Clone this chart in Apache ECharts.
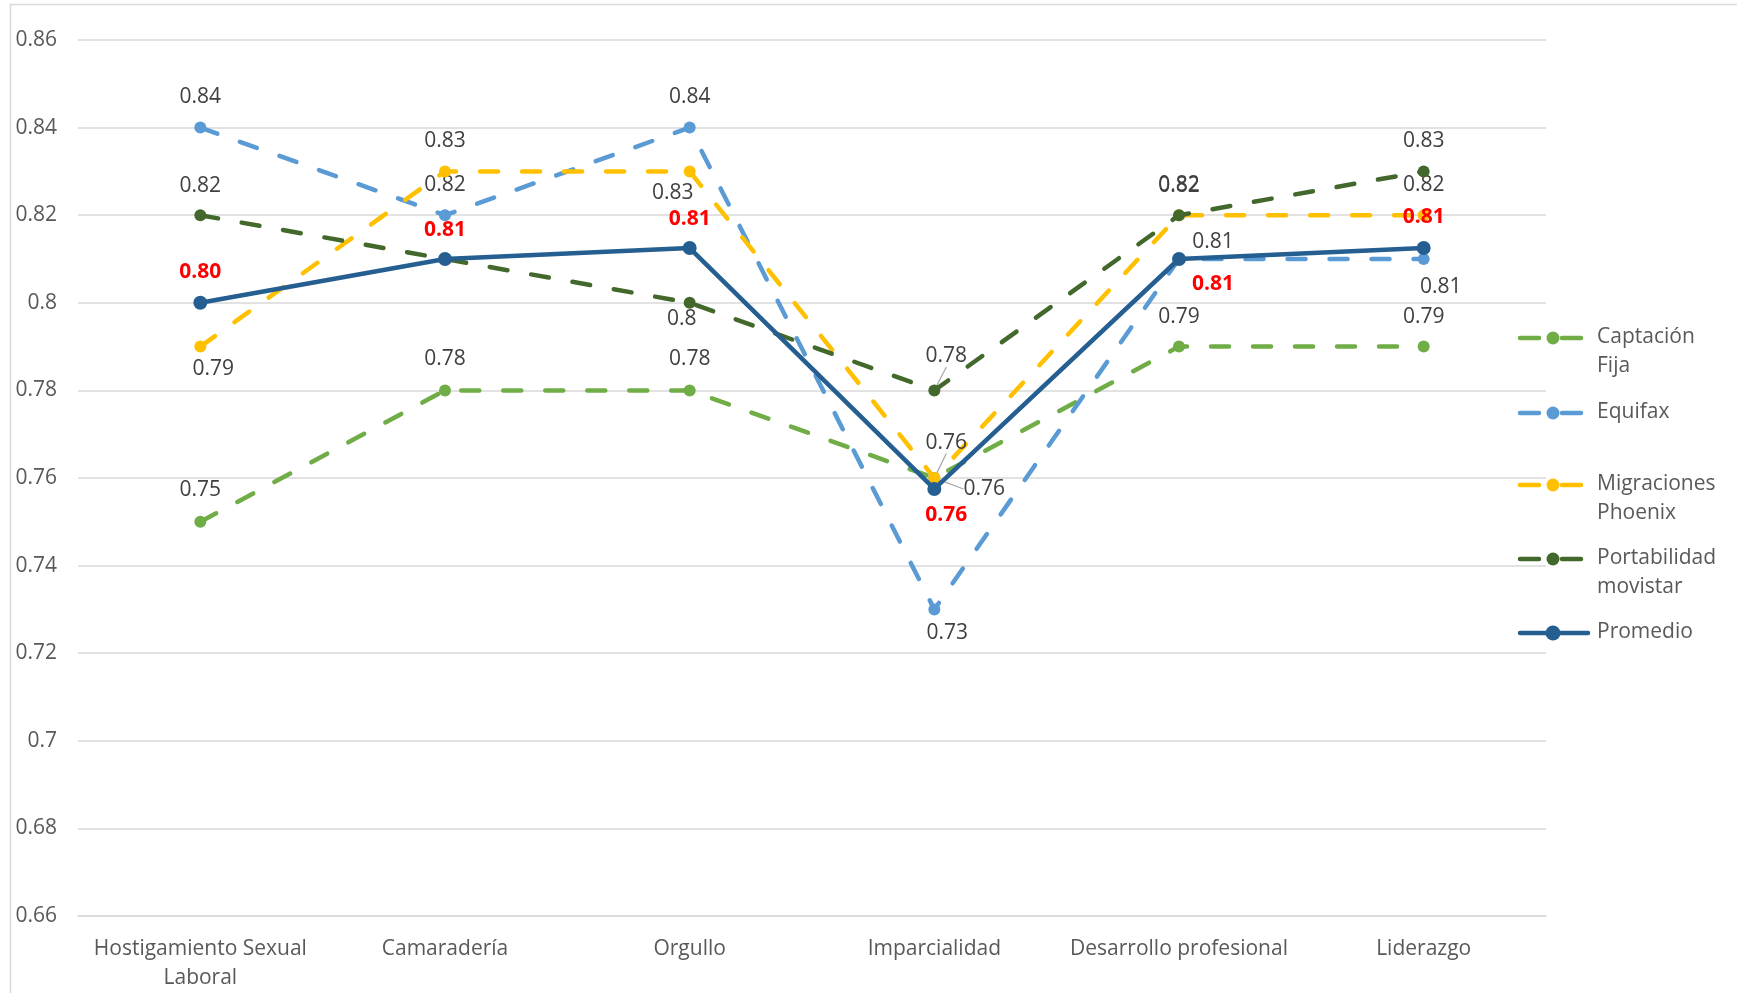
<!DOCTYPE html>
<html>
<head>
<meta charset="utf-8">
<script src="https://cdn.jsdelivr.net/npm/echarts@6/dist/echarts.min.js"></script>
<style>
  html, body { margin: 0; padding: 0; background: #ffffff; }
  #chart { width: 1737px; height: 993px; }
</style>
</head>
<body>
<div id="chart"></div>
<script>
// Categories and series values
const categories = ['Hostigamiento Sexual\nLaboral', 'Camaradería', 'Orgullo', 'Imparcialidad', 'Desarrollo profesional', 'Liderazgo'];
const captacionFija = [0.75, 0.78, 0.78, 0.76, 0.79, 0.79];
const equifax = [0.84, 0.82, 0.84, 0.73, 0.81, 0.81];
const migracionesPhoenix = [0.79, 0.83, 0.83, 0.76, 0.82, 0.82];
const portabilidadMovistar = [0.82, 0.81, 0.80, 0.78, 0.82, 0.83];
const promedio = [0.80, 0.81, 0.8125, 0.7575, 0.81, 0.8125];

// Value axis range
const yMin = 0.66, yMax = 0.86, yStep = 0.02;

const seriesNames = ['Captación Fija', 'Equifax', 'Migraciones Phoenix', 'Portabilidad movistar', 'Promedio'];
const legendLabels = ['Captación\nFija', 'Equifax', 'Migraciones\nPhoenix', 'Portabilidad\nmovistar', 'Promedio'];
const seriesColors = ['#70AD47', '#5B9BD5', '#FFC000', '#43682B', '#255E91'];
const seriesData = [captacionFija, equifax, migracionesPhoenix, portabilidadMovistar, promedio];

// Label displacement from each point (px), null hides the label
const labelShift = [
  [[0, -32], [0, -31], [0, -31], [50, 11], [0, -30], [0, -30]],
  [[0, -31], [0, -30], [0, -31], [13, 24], [34, -17], [17, 28]],
  [[13, 22], [0, -30], [-17, 22], [12, -35], [0, -30], [0, -30]],
  [[0, -29], null, [-8, 16], [12, -34], [0, -29], [0, -30]],
  [[0, -31], [0, -29], [0, -29], [12, 26], [34, 25], [0, -31]]
];
// Labels that get a thin leader line back to their point
const leaderLabels = { '0-3': true, '2-3': true, '3-3': true };

const FONT = '"Open Sans", "Noto Sans", sans-serif';
const FS = 21;

const series = seriesData.map((values, si) => {
  const isAvg = si === 4;
  return {
    name: seriesNames[si],
    type: 'line',
    data: values.map((v, di) => {
      const item = { value: v };
      if (labelShift[si][di] === null) item.label = { show: false };
      if (leaderLabels[si + '-' + di]) {
        item.labelLine = { show: true, lineStyle: { color: '#A6A6A6', width: 1.2 } };
      }
      return item;
    }),
    symbol: 'circle',
    symbolSize: isAvg ? 14 : 12,
    showAllSymbol: true,
    z: 2 + si,
    itemStyle: { color: seriesColors[si] },
    lineStyle: isAvg
      ? { color: seriesColors[si], width: 4.5 }
      : { color: seriesColors[si], width: 4.5, type: [18, 24], cap: 'round' },
    emphasis: { disabled: true },
    label: {
      show: true,
      position: 'inside',
      fontFamily: FONT,
      fontSize: FS,
      color: isAvg ? '#FF0000' : '#404040',
      fontWeight: isAvg ? 'bold' : 'normal',
      formatter: isAvg ? (p => p.value.toFixed(2)) : (p => String(+p.value.toFixed(2)))
    },
    labelLayout: (p) => {
      const s = labelShift[p.seriesIndex][p.dataIndex];
      return s ? { dx: s[0], dy: s[1] } : {};
    }
  };
});

// Legend drawn at the right, one entry per series
const legendY = [338, 413, 485, 559, 633];
const legendGraphics = [];
seriesNames.forEach((n, i) => {
  const y = legendY[i];
  const col = seriesColors[i];
  const dashed = i < 4;
  const children = [];
  if (dashed) {
    children.push({ type: 'line', shape: { x1: 1520, y1: y, x2: 1539, y2: y }, style: { stroke: col, lineWidth: 4.5, lineCap: 'round' } });
    children.push({ type: 'line', shape: { x1: 1562, y1: y, x2: 1581, y2: y }, style: { stroke: col, lineWidth: 4.5, lineCap: 'round' } });
  } else {
    children.push({ type: 'line', shape: { x1: 1520, y1: y, x2: 1588, y2: y }, style: { stroke: col, lineWidth: 4.5, lineCap: 'round' } });
  }
  children.push({ type: 'circle', shape: { cx: 1553, cy: y, r: dashed ? 6.5 : 7.5 }, style: { fill: col } });
  children.push({
    type: 'text', x: 1597, y: y - 15,
    style: { text: legendLabels[i], fill: '#595959', font: FS + 'px ' + FONT, lineHeight: 29, verticalAlign: 'top', align: 'left' }
  });
  legendGraphics.push({ type: 'group', children: children });
});

const chart = echarts.init(document.getElementById('chart'), null, { renderer: 'canvas' });
chart.setOption({
  backgroundColor: '#ffffff',
  animation: false,
  textStyle: { fontFamily: FONT },
  grid: { left: 78, right: 191, top: 40, bottom: 76, containLabel: false },
  xAxis: {
    type: 'category',
    data: categories,
    boundaryGap: true,
    axisLine: { show: true, lineStyle: { color: '#D9D9D9', width: 1.5 } },
    axisTick: { show: false },
    axisLabel: { color: '#595959', fontSize: FS, fontFamily: FONT, margin: 19, lineHeight: 29, interval: 0 }
  },
  yAxis: {
    type: 'value',
    min: yMin, max: yMax, interval: yStep,
    axisLine: { show: false },
    axisTick: { show: false },
    splitLine: { show: true, lineStyle: { color: '#D9D9D9', width: 1.5 } },
    axisLabel: { color: '#595959', fontSize: FS, fontFamily: FONT, margin: 21, formatter: v => String(+v.toFixed(2)) }
  },
  series: series,
  graphic: [
    { type: 'rect', z: -1, silent: true, shape: { x: 10.5, y: 4.5, width: 1800, height: 1100 }, style: { fill: 'none', stroke: '#D9D9D9', lineWidth: 1.5 } }
  ].concat(legendGraphics)
});
</script>
</body>
</html>
